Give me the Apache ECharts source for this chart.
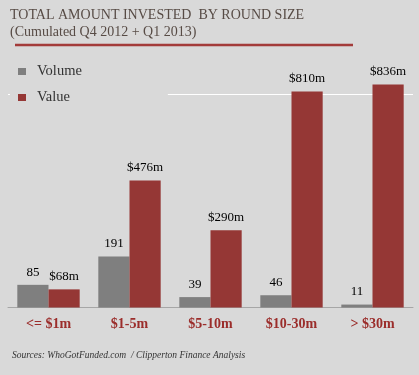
<!DOCTYPE html>
<html>
<head>
<meta charset="utf-8">
<script src="https://cdn.jsdelivr.net/npm/echarts@6/dist/echarts.min.js"></script>
<style>
  html, body { margin: 0; padding: 0; background: #d9d9d9; }
  #chart { width: 419px; height: 375px; }
</style>
</head>
<body>
<div id="chart"></div>
<script>
// round size buckets
var categories = ['<= $1m', '$1-5m', '$5-10m', '$10-30m', '> $30m'];
var volumeData = [85, 191, 39, 46, 11];    // number of deals
var valueData = [68, 476, 290, 810, 836];  // $m invested

var serif = '"Liberation Serif", "DejaVu Serif", serif';

var chart = echarts.init(document.getElementById('chart'));

var option = {
    backgroundColor: '#d9d9d9',
    animation: false,
    title: [
        {
            text: 'TOTAL AMOUNT INVESTED  BY ROUND SIZE',
            subtext: '(Cumulated Q4 2012 + Q1 2013)',
            left: 5,
            top: 3,
            itemGap: 3,
            textStyle: { fontFamily: serif, fontSize: 14, fontWeight: 'normal', color: '#574b45' },
            subtextStyle: { fontFamily: serif, fontSize: 14, color: '#574b45' }
        },
        {
            text: 'Sources: WhoGotFunded.com  / Clipperton Finance Analysis',
            left: 7,
            top: 345,
            textStyle: { fontFamily: serif, fontSize: 9.5, fontStyle: 'italic', fontWeight: 'normal', color: '#333' }
        }
    ],
    graphic: [
        {
            type: 'line',
            shape: { x1: 15, y1: 45, x2: 353, y2: 45 },
            style: { stroke: '#a33b3a', lineWidth: 2.5 }
        }
    ],
    legend: {
        orient: 'vertical',
        left: 10,
        top: 59,
        padding: [5, 86, 5, 8],
        backgroundColor: '#d9d9d9',
        z: 10,
        itemWidth: 8,
        itemHeight: 7,
        itemGap: 11,
        icon: 'rect',
        textStyle: { fontFamily: serif, fontSize: 14.5, color: '#333', lineHeight: 14, padding: [0, 0, 0, 6] },
        data: ['Volume', 'Value']
    },
    grid: { left: 8, right: 6, top: 67.5, bottom: 67.5 },
    xAxis: {
        type: 'category',
        data: categories,
        axisLine: { lineStyle: { color: '#a6a6a6', width: 1 } },
        axisTick: { length: 4, lineStyle: { color: '#a6a6a6' } },
        axisLabel: { fontFamily: serif, fontSize: 14, fontWeight: 'bold', color: '#9b2d2b', margin: 10 }
    },
    yAxis: {
        type: 'value',
        min: 0,
        max: 900,
        interval: 800,
        axisLine: { show: false },
        axisTick: { show: false },
        axisLabel: { show: false },
        splitLine: {
            show: true,
            showMinLine: false,
            showMaxLine: false,
            lineStyle: { color: '#ffffff', width: 1 }
        }
    },
    series: [
        {
            name: 'Volume',
            type: 'bar',
            data: volumeData,
            barGap: '0%',
            barCategoryGap: '23%',
            itemStyle: { color: '#7f7f7f' },
            label: {
                show: true, position: 'top', distance: 6,
                fontFamily: serif, fontSize: 13, color: '#000'
            }
        },
        {
            name: 'Value',
            type: 'bar',
            data: valueData,
            barGap: '0%',
            barCategoryGap: '23%',
            itemStyle: { color: '#953735' },
            label: {
                show: true, position: 'top', distance: 6,
                fontFamily: serif, fontSize: 13, color: '#000',
                formatter: function (p) { return '$' + p.value + 'm'; }
            }
        }
    ]
};

chart.setOption(option);
</script>
</body>
</html>
